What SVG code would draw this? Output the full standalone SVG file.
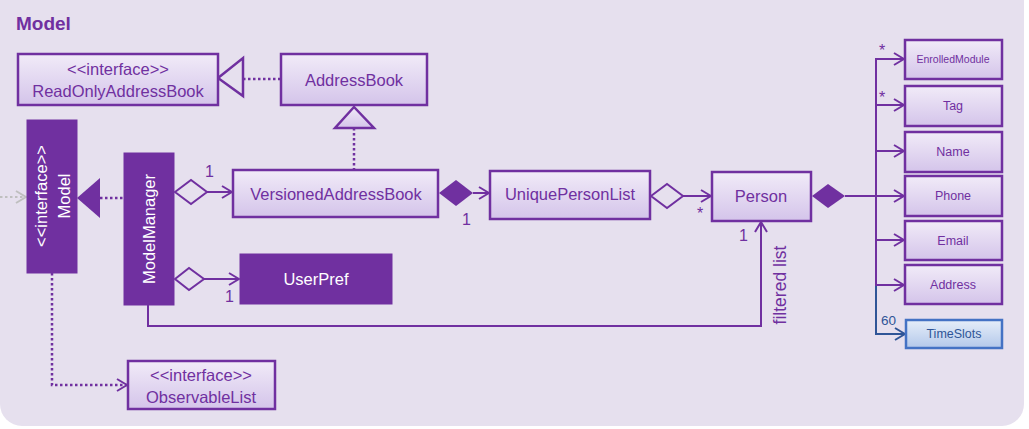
<svg xmlns="http://www.w3.org/2000/svg" width="1029" height="429" viewBox="0 0 1029 429">
<defs>
<linearGradient id="lg" x1="0" y1="0" x2="0" y2="1"><stop offset="0" stop-color="#F1EBF8"/><stop offset="1" stop-color="#D4C4EA"/></linearGradient>
<linearGradient id="bg" x1="0" y1="0" x2="0" y2="1"><stop offset="0" stop-color="#E6EEF9"/><stop offset="1" stop-color="#B3C8EA"/></linearGradient>
<marker id="op" viewBox="0 0 12 14" refX="11" refY="7" markerWidth="12" markerHeight="14" markerUnits="userSpaceOnUse" orient="auto"><polyline points="1,1 11,7 1,13" fill="none" stroke="#7030A0" stroke-width="2"/></marker>
<marker id="opb" viewBox="0 0 12 14" refX="11" refY="7" markerWidth="12" markerHeight="14" markerUnits="userSpaceOnUse" orient="auto"><polyline points="1,1 11,7 1,13" fill="none" stroke="#2F5597" stroke-width="2"/></marker>
<marker id="opg" viewBox="0 0 12 14" refX="11" refY="7" markerWidth="12" markerHeight="14" markerUnits="userSpaceOnUse" orient="auto"><polyline points="1,1 11,7 1,13" fill="none" stroke="#BFBFBF" stroke-width="2"/></marker>
</defs>
<style>
.lt{fill:url(#lg);stroke:#7030A0;stroke-width:2.5}
.dk{fill:#7030A0;stroke:#7030A0;stroke-width:1}
.t{font-family:"Liberation Sans",Arial,sans-serif;font-size:16.5px;fill:#7030A0;text-anchor:middle}
.w{fill:#FFFFFF}
.s{font-size:12.5px}
.xs{font-size:10.5px}
.ln{fill:none;stroke:#7030A0;stroke-width:2}
.dt{fill:none;stroke:#7030A0;stroke-width:2.5;stroke-dasharray:2.5 2.5}
.lbl{font-family:"Liberation Sans",Arial,sans-serif;font-size:16px;fill:#7030A0}
</style>
<rect x="0" y="-20" width="1024" height="446" rx="22" fill="#E6E0EE"/>
<text x="16" y="30" font-family="Liberation Sans,Arial,sans-serif" font-size="19" font-weight="bold" fill="#7030A0">Model</text>

<g id="connectors">
<line x1="0" y1="197" x2="26" y2="197" stroke="#BFBFBF" stroke-width="2" stroke-dasharray="2.5 2.5" marker-end="url(#opg)"/>
<line class="dt" x1="243" y1="79" x2="281" y2="79"/>
<polygon points="218,78 243,58 243,96" fill="#E6E0EE" stroke="#7030A0" stroke-width="2.5"/>
<line class="dt" x1="354" y1="128" x2="354" y2="170"/>
<polygon points="354,107 335,128 374,128" fill="url(#lg)" stroke="#7030A0" stroke-width="2.5"/>
<line class="dt" x1="100" y1="198" x2="124" y2="198"/>
<polygon points="77,198 100,178 100,218" fill="#7030A0"/>
<line class="ln" x1="207" y1="192" x2="232" y2="192" marker-end="url(#op)"/>
<polygon points="175,192 191,180 207,192 191,204" fill="#E6E0EE" stroke="#7030A0" stroke-width="2"/>
<line class="ln" x1="204" y1="279" x2="239" y2="279" marker-end="url(#op)"/>
<polygon points="175,279 189,268 204,279 189,290" fill="#E6E0EE" stroke="#7030A0" stroke-width="2"/>
<line class="ln" x1="473" y1="193" x2="489" y2="193" marker-end="url(#op)"/>
<polygon points="439,193 456,180 473,193 456,206" fill="#7030A0"/>
<line class="ln" x1="683" y1="196" x2="711" y2="196" marker-end="url(#op)"/>
<polygon points="651,196 667,184 683,196 667,208" fill="#E6E0EE" stroke="#7030A0" stroke-width="2"/>
<polyline class="ln" points="148,305 148,326 761,326 761,222" marker-end="url(#op)"/>
<polyline class="dt" points="52,273 52,385 127,385" stroke-dasharray="2.5 2.5" marker-end="url(#op)"/>
<polygon points="812,196 828,184 845,196 828,208" fill="#7030A0"/>
<line class="ln" x1="845" y1="196" x2="876" y2="196"/>
<line class="ln" x1="876" y1="58" x2="876" y2="286"/>
<line class="ln" x1="876" y1="59" x2="904" y2="59" marker-end="url(#op)"/>
<line class="ln" x1="876" y1="105" x2="904" y2="105" marker-end="url(#op)"/>
<line class="ln" x1="876" y1="151" x2="904" y2="151" marker-end="url(#op)"/>
<line class="ln" x1="876" y1="196" x2="904" y2="196" marker-end="url(#op)"/>
<line class="ln" x1="876" y1="240" x2="904" y2="240" marker-end="url(#op)"/>
<line class="ln" x1="876" y1="285" x2="904" y2="285" marker-end="url(#op)"/>
<polyline points="876,286 876,334 905,334" fill="none" stroke="#2F5597" stroke-width="2" marker-end="url(#opb)"/>
<text class="lbl" x="205" y="177">1</text>
<text class="lbl" x="225" y="302">1</text>
<text class="lbl" x="462" y="225">1</text>
<text class="lbl" x="697" y="219">*</text>
<text class="lbl" x="739" y="241">1</text>
<text class="lbl" x="879" y="56">*</text>
<text class="lbl" x="879" y="103">*</text>
<text x="881" y="325" font-family="Liberation Sans,Arial,sans-serif" font-size="13.5" fill="#2F5597">60</text>
<text class="lbl" transform="translate(780,285) rotate(-90)" y="6" text-anchor="middle" font-size="17" style="font-size:17.5px">filtered list</text>
</g>

<g id="ReadOnlyAddressBook"><rect class="lt" x="18" y="54" width="200" height="51"/><text class="t" x="118" y="75">&lt;&lt;interface&gt;&gt;</text><text class="t" x="118" y="97">ReadOnlyAddressBook</text></g>
<g id="AddressBook"><rect class="lt" x="281" y="54" width="146" height="51"/><text class="t" x="354" y="86">AddressBook</text></g>
<g id="Model"><rect class="dk" x="27" y="120" width="50" height="153"/><g transform="translate(52,196) rotate(-90)"><text class="t w" y="-5">&lt;&lt;interface&gt;&gt;</text><text class="t w" y="18">Model</text></g></g>
<g id="ModelManager"><rect class="dk" x="124" y="153" width="50" height="152"/><text class="t w" transform="translate(149,229) rotate(-90)" y="6">ModelManager</text></g>
<g id="VersionedAddressBook"><rect class="lt" x="233" y="170" width="205" height="47"/><text class="t" x="336" y="200">VersionedAddressBook</text></g>
<g id="UserPref"><rect class="dk" x="240" y="254" width="152" height="50"/><text class="t w" x="316" y="285">UserPref</text></g>
<g id="UniquePersonList"><rect class="lt" x="490" y="171" width="160" height="48"/><text class="t" x="570" y="200">UniquePersonList</text></g>
<g id="Person"><rect class="lt" x="712" y="172" width="99" height="49"/><text class="t" x="761" y="202">Person</text></g>
<g id="ObservableList"><rect class="lt" x="128" y="361" width="147" height="48"/><text class="t" x="201" y="381">&lt;&lt;interface&gt;&gt;</text><text class="t" x="201" y="403">ObservableList</text></g>
<g id="EnrolledModule"><rect class="lt" x="905" y="40" width="97" height="39"/><text class="t xs" x="953" y="63">EnrolledModule</text></g>
<g id="Tag"><rect class="lt" x="905" y="86" width="97" height="40"/><text class="t s" x="953" y="110">Tag</text></g>
<g id="Name"><rect class="lt" x="905" y="132" width="97" height="40"/><text class="t s" x="953" y="156">Name</text></g>
<g id="Phone"><rect class="lt" x="905" y="176" width="97" height="40"/><text class="t s" x="953" y="200">Phone</text></g>
<g id="Email"><rect class="lt" x="905" y="221" width="97" height="39"/><text class="t s" x="953" y="245">Email</text></g>
<g id="Address"><rect class="lt" x="905" y="265" width="97" height="39"/><text class="t s" x="953" y="289">Address</text></g>
<g id="TimeSlots"><rect x="906" y="320" width="96" height="28" fill="url(#bg)" stroke="#4472C4" stroke-width="2.5"/><text class="t s" x="954" y="338" style="fill:#2F5597">TimeSlots</text></g>
</svg>
